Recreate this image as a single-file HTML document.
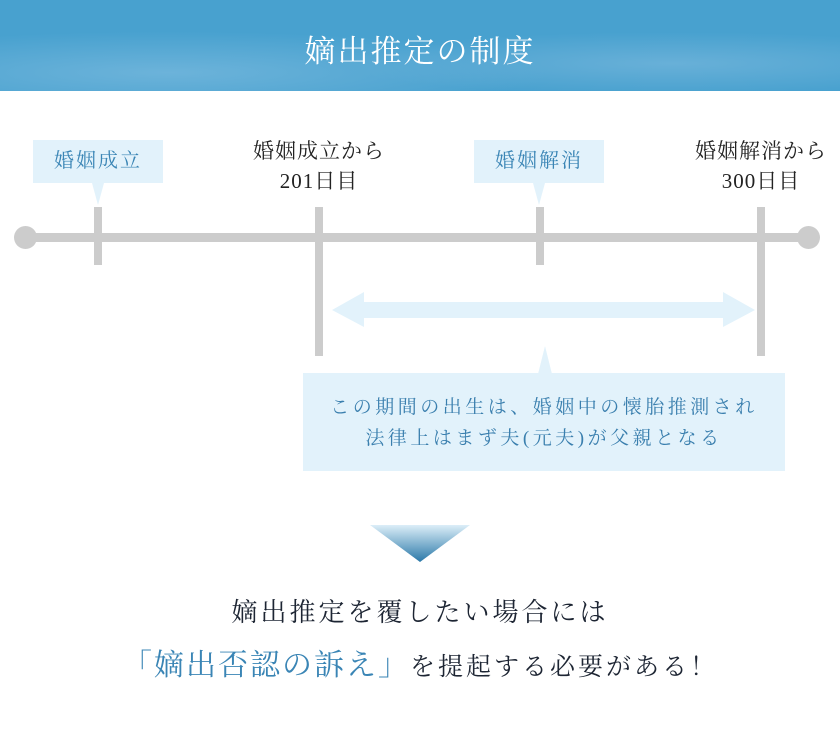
<!DOCTYPE html>
<html><head><meta charset="utf-8"><style>
body{margin:0;width:840px;height:750px;background:#fff;position:relative;overflow:hidden;font-family:"Liberation Serif","Noto Serif CJK SC",serif}
.a{position:absolute}
.hdr{left:0;top:0;width:840px;height:91px;background:radial-gradient(ellipse at 20% 80%,#6cb3da 0,transparent 40%),radial-gradient(ellipse at 80% 70%,#68b0d8 0,transparent 35%),#48a1cf}
.ttl{left:0;width:840px;top:26px;text-align:center;color:#fff;font-size:31px;letter-spacing:2px}
.bar{background:#cccccc}
.lb{background:#e2f2fb;color:#3a85b5;font-size:20px;text-align:center;line-height:43px;letter-spacing:2px}
.bk{color:#222;font-size:21px;text-align:center;line-height:30px;width:220px;letter-spacing:1px}
</style></head><body>
<div class="a hdr"></div>
<div class="a ttl">嫡出推定の制度</div>

<div class="a bar" style="left:25px;top:233px;width:783px;height:9px"></div>
<div class="a bar" style="left:14px;top:226px;width:23px;height:23px;border-radius:50%"></div>
<div class="a bar" style="left:797px;top:226px;width:23px;height:23px;border-radius:50%"></div>
<div class="a bar" style="left:94px;top:207px;width:8px;height:58px"></div>
<div class="a bar" style="left:315px;top:207px;width:8px;height:149px"></div>
<div class="a bar" style="left:536px;top:207px;width:8px;height:58px"></div>
<div class="a bar" style="left:757px;top:207px;width:8px;height:149px"></div>

<div class="a lb" style="left:33px;top:140px;width:130px;height:43px">婚姻成立</div>
<div class="a lb" style="left:474px;top:140px;width:130px;height:43px">婚姻解消</div>
<svg class="a" style="left:0;top:0" width="840" height="750">
<polygon points="92,183 104,183 98,205" fill="#e2f2fb"/>
<polygon points="533,183 545,183 539,205" fill="#e2f2fb"/>
<polygon points="332,310 364,292 364,302 723,302 723,292 755,310 723,327 723,318 364,318 364,327" fill="#e2f2fb"/>
<polygon points="538,374 552,374 545,346" fill="#e2f2fb"/>
<defs><linearGradient id="g" x1="0" y1="0" x2="0" y2="1"><stop offset="0" stop-color="#dceef8"/><stop offset="1" stop-color="#2a78a8"/></linearGradient></defs>
<polygon points="370,525 470,525 420,562" fill="url(#g)"/>
</svg>
<div class="a bk" style="left:209px;top:136px">婚姻成立から<br>201日目</div>
<div class="a bk" style="left:651px;top:136px">婚姻解消から<br>300日目</div>

<div class="a" style="left:303px;top:373px;width:482px;height:98px;background:#e2f2fb"></div>
<div class="a" style="left:303px;top:392px;width:482px;text-align:center;color:#3a7fae;font-size:19px;line-height:31px;letter-spacing:3.5px">この期間の出生は、婚姻中の懐胎推測され<br>法律上はまず夫(元夫)が父親となる</div>

<div class="a" style="left:0;width:840px;top:592px;text-align:center;font-size:26px;color:#1d2533;letter-spacing:3px">嫡出推定を覆したい場合には</div>
<div class="a" style="left:0;width:840px;top:640px;text-align:center;font-size:25px;color:#1d2533;letter-spacing:3px"><span style="color:#3a85b5;font-size:30px;letter-spacing:2px">「嫡出否認の訴え」</span>を提起する必要がある！</div>
</body></html>
